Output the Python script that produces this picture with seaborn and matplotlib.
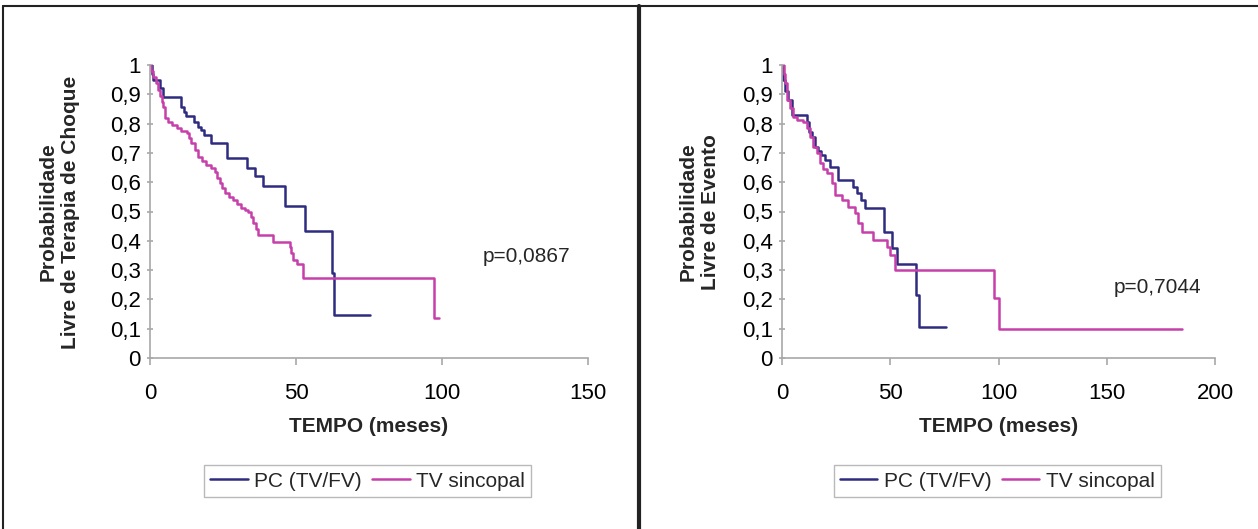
import pandas as pd
import matplotlib
matplotlib.use("Agg")
import matplotlib.pyplot as plt
import seaborn as sns
from matplotlib.lines import Line2D


# -------------------------------
# Data
# -------------------------------

groups = ["PC (TV/FV)", "TV sincopal"]
colors = ["#2e2c80", "#c740aa"]

# left panel: free of shock therapy
tempo_pc_l = [0, 0.6, 1.1, 3.4, 4.6, 10.6, 11.6, 12.4, 15.1, 16.4, 17.6, 18.4,
              21.0, 26.2, 33.3, 35.8, 38.7, 46.3, 53.1, 62.2, 62.9, 75.3]
prob_pc_l = [1.0, 0.97, 0.949, 0.92, 0.89, 0.858, 0.84, 0.825, 0.807, 0.79, 0.778,
             0.761, 0.733, 0.682, 0.65, 0.62, 0.586, 0.52, 0.435, 0.29, 0.146, 0.146]

tempo_tv_l = [0, 0.5, 1.1, 2.0, 2.8, 3.5, 4.0, 4.6, 5.1, 6.2, 7.5, 9.1, 10.5, 12.5,
              13.3, 14.2, 15.3, 16.5, 17.8, 19.3, 20.8, 22.2, 23.0, 23.9, 24.8, 25.6,
              27.0, 28.4, 29.8, 31.3, 32.5, 33.6, 34.5, 35.3, 36.2, 37.0, 42.1, 47.8,
              48.4, 48.9, 50.5, 52.3, 97.3, 99.0]
prob_tv_l = [1.0, 0.98, 0.96, 0.94, 0.915, 0.895, 0.875, 0.858, 0.818, 0.807, 0.795,
             0.784, 0.775, 0.767, 0.75, 0.733, 0.71, 0.687, 0.672, 0.659, 0.648, 0.636,
             0.616, 0.596, 0.58, 0.562, 0.55, 0.539, 0.525, 0.511, 0.505, 0.5, 0.48,
             0.46, 0.44, 0.42, 0.397, 0.38, 0.36, 0.334, 0.32, 0.272, 0.135, 0.135]

# right panel: event free
tempo_pc_r = [0, 0.6, 1.4, 2.9, 4.5, 11.4, 12.5, 13.7, 15.2, 16.8, 18.2, 19.8, 22.1,
              26.0, 32.9, 34.5, 36.3, 38.5, 47.0, 50.6, 52.9, 62.1, 63.1, 75.8]
prob_pc_r = [1.0, 0.95, 0.91, 0.88, 0.83, 0.807, 0.773, 0.755, 0.721, 0.705, 0.693,
             0.676, 0.653, 0.607, 0.585, 0.562, 0.539, 0.513, 0.43, 0.374, 0.32,
             0.215, 0.105, 0.105]

tempo_tv_r = [0, 0.7, 1.4, 2.2, 3.7, 5.2, 6.8, 9.8, 11.4, 12.9, 14.4, 16.0, 17.5,
              19.0, 20.6, 22.9, 24.4, 27.5, 30.6, 33.6, 35.2, 36.8, 42.2, 48.3, 49.8,
              52.1, 97.9, 100.0, 184.6]
prob_tv_r = [1.0, 0.97, 0.94, 0.88, 0.852, 0.824, 0.812, 0.807, 0.784, 0.755, 0.721,
             0.699, 0.665, 0.645, 0.63, 0.596, 0.556, 0.539, 0.516, 0.494, 0.46, 0.431,
             0.403, 0.38, 0.352, 0.3, 0.206, 0.099, 0.099]

yticks = [0, 0.1, 0.2, 0.3, 0.4, 0.5, 0.6, 0.7, 0.8, 0.9, 1]
xticks_l = [0, 50, 100, 150]
xticks_r = [0, 50, 100, 150, 200]


def km_frame(t1, p1, t2, p2):
    a = pd.DataFrame({"tempo": t1, "prob": p1, "grupo": groups[0]})
    b = pd.DataFrame({"tempo": t2, "prob": p2, "grupo": groups[1]})
    return pd.concat([a, b], ignore_index=True)


df_l = km_frame(tempo_pc_l, prob_pc_l, tempo_tv_l, prob_tv_l)
df_r = km_frame(tempo_pc_r, prob_pc_r, tempo_tv_r, prob_tv_r)


# -------------------------------
# Figure
# -------------------------------

sns.set_style("white")
plt.rcParams["font.family"] = ["Liberation Sans", "DejaVu Sans"]

fig = plt.figure(figsize=(12.58, 5.29), dpi=100)

ax1 = fig.add_axes([150 / 1258, 171 / 529, 438 / 1258, 293 / 529])
ax2 = fig.add_axes([782 / 1258, 171 / 529, 433 / 1258, 293 / 529])

gray = "#a8a8a8"


def draw_panel(ax, df, xticks, ylabel, ylab_x, ptext, px, py):
    sns.lineplot(
        data=df, x="tempo", y="prob", hue="grupo",
        palette=dict(zip(groups, colors)),
        drawstyle="steps-post", estimator=None, sort=False,
        legend=False, linewidth=1.8, ax=ax
    )

    ax.set_xlim(xticks[0], xticks[-1])
    ax.set_ylim(0, 1)
    ax.set_xticks(xticks)
    ax.set_xticklabels([str(v) for v in xticks])
    ax.set_yticks(yticks)
    ax.set_yticklabels([("%g" % v).replace(".", ",") for v in yticks])

    for side in ["top", "right"]:
        ax.spines[side].set_visible(False)
    for side in ["left", "bottom"]:
        ax.spines[side].set_color(gray)
        ax.spines[side].set_linewidth(1.2)

    ax.tick_params(axis="x", length=5, width=1.2, color=gray, pad=13,
                   labelsize=16, labelcolor="black", bottom=True)
    ax.tick_params(axis="y", length=5, width=1.2, color=gray, pad=4,
                   labelsize=16, labelcolor="black", left=True, direction="inout")

    ax.set_xlabel("TEMPO (meses)", fontsize=15, fontweight="bold")
    ax.xaxis.set_label_coords(0.5, -0.2)
    ax.set_ylabel("")

    fig.text(ylab_x / 1258, 1 - 212 / 529, ylabel, rotation=90,
             ha="center", va="center", multialignment="center",
             fontsize=15, fontweight="bold", linespacing=1.2)

    ax.text(px, py, ptext, fontsize=15, ha="left", va="center")

    handles = [Line2D([], [], color=c, lw=1.8) for c in colors]
    ax.legend(handles, groups, loc="center", bbox_to_anchor=(0.497, -0.42),
              ncol=2, fontsize=15, frameon=True, fancybox=False,
              edgecolor=gray, handlelength=1.8, handletextpad=0.3,
              columnspacing=0.5, borderpad=0.3, borderaxespad=0)


draw_panel(ax1, df_l, xticks_l, "Probabilidade\nLivre de Terapia de Choque", 59,
           "p=0,0867", 114, 0.345)
draw_panel(ax2, df_r, xticks_r, "Probabilidade\nLivre de Evento", 699,
           "p=0,7044", 153, 0.239)

# outer frame and divider
frame = dict(color="#222222", transform=fig.transFigure)
fig.add_artist(Line2D([0.002, 1], [0.989, 0.989], lw=1.5, **frame))
fig.add_artist(Line2D([0.002, 0.002], [0, 0.989], lw=1.5, **frame))
fig.add_artist(Line2D([639 / 1258, 639 / 1258], [0, 0.989], lw=3, **frame))

fig.savefig("out.png", dpi=100)
